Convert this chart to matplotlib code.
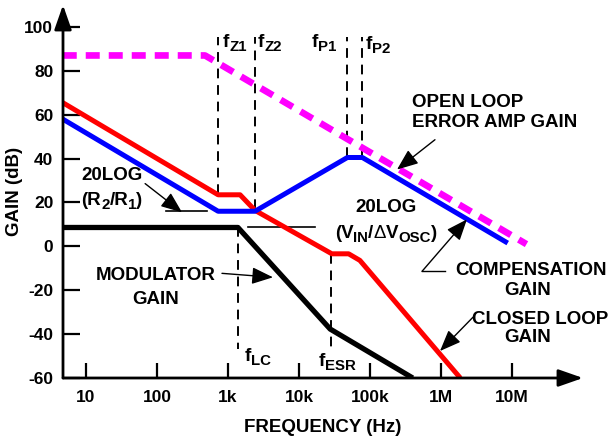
import matplotlib
matplotlib.use("Agg")
import matplotlib.pyplot as plt

plt.rcParams['font.family'] = ['Liberation Sans', 'DejaVu Sans']
plt.rcParams['font.weight'] = 'bold'
plt.rcParams['axes.labelweight'] = 'bold'

# asymptotic gain curves (frequency in Hz, gain in dB)
open_loop_f = [4.7, 475, 16e6]
open_loop_db = [87, 87, 1]

comp_f = [4.7, 725, 2400, 48000, 78000, 8.7e6]
comp_db = [58, 16, 16, 40.5, 40.5, 1.5]

closed_f = [4.7, 725, 1480, 2400, 29000, 50000, 72000, 1.87e6]
closed_db = [65.5, 23.5, 23.5, 16.4, -3.4, -3.4, -6.4, -60]

mod_f = [4.7, 1380, 27500, 400000]
mod_db = [8.6, 8.6, -37.7, -60]

# corner frequencies: (name, freq, y from, y to)
corners = [
    ('fz1', 725, 24, 95.5),
    ('fz2', 2400, 17, 95.5),
    ('fp1', 48000, 40.5, 95.5),
    ('fp2', 78000, 40.5, 95.5),
    ('flc', 1380, 8.6, -47),
    ('fesr', 28000, -3.6, -47),
]

xticks = [10, 100, 1e3, 1e4, 1e5, 1e6, 1e7]
xtick_labels = ['10', '100', '1k', '10k', '100k', '1M', '10M']
yticks = [-60, -40, -20, 0, 20, 40, 60, 80, 100]

W, H = 608, 438


def fp(x, y):
    # pixel position -> figure fraction
    return x / W, 1 - y / H


fig = plt.figure(figsize=(W / 100, H / 100), dpi=100)
ax = fig.add_axes([63 / W, 1 - 378 / H, (583 - 63) / W, (378 - 5) / H])
ax.set_xscale('log')
ax.set_xlim(4.74, 1e8)
ax.set_ylim(-60, 110)

for s in ax.spines.values():
    s.set_visible(False)
ax.annotate('', xy=(1, 0), xytext=(0, 0), xycoords='axes fraction',
            arrowprops=dict(arrowstyle='-|>,head_length=1.0,head_width=0.35',
                            mutation_scale=15, lw=2, color='k', shrinkA=0, shrinkB=0))
ax.annotate('', xy=(0, 1), xytext=(0, 0), xycoords='axes fraction',
            arrowprops=dict(arrowstyle='-|>,head_length=1.0,head_width=0.35',
                            mutation_scale=15, lw=2, color='k', shrinkA=0, shrinkB=0))

ax.set_xticks(xticks)
ax.set_xticklabels(xtick_labels, fontweight='bold')
ax.minorticks_off()
ax.set_yticks(yticks)
ax.set_yticklabels([str(v) for v in yticks], fontweight='bold')
ax.tick_params(axis='y', direction='in', length=12, width=1.6, pad=7, labelsize=12.5)
ax.tick_params(axis='x', direction='in', length=10.5, width=1.6, pad=9, labelsize=12.5)

# corner frequency markers
for name, f, y0, y1 in corners:
    ax.plot([f, f], [y0, y1], color='k', lw=1.4, ls=(0, (5, 3.5)))

# reference levels
ax.plot([133, 506], [16, 16], color='k', lw=1.2)
ax.plot([1900, 16600], [8.6, 8.6], color='k', lw=1.2)

ax.plot(mod_f, mod_db, color='k', lw=3.8, solid_capstyle='butt')
ax.plot(closed_f, closed_db, color='#ff0000', lw=3.6, solid_capstyle='butt')
ax.plot(comp_f, comp_db, color='#0000ff', lw=3.6, solid_capstyle='butt')
ax.plot(open_loop_f, open_loop_db, color='#ff00ff', lw=4.8, ls=(0, (2.1, 1.35)))

ax.set_xlabel('FREQUENCY (Hz)', fontsize=13.5, fontweight='bold', labelpad=10)
fig.text(*fp(15, 191), 'GAIN (dB)', rotation=90, ha='center', va='center',
         fontsize=13.5, fontweight='bold')

renderer = fig.canvas.get_renderer()


def rich(x, y, parts, ha='left', size=13.5):
    # parts: list of (text, kind) with kind '' normal, 's' subscript, 't' thin
    objs = []
    cx = 0
    for s, kind in parts:
        fs = size * 0.8 if kind == 's' else size
        dy = 4 if kind == 's' else 0
        fw = 'normal' if kind == 't' else 'bold'
        t = fig.text(0, 0, s, fontsize=fs, fontweight=fw, va='baseline', ha='left')
        w = t.get_window_extent(renderer).width
        objs.append((t, cx, dy))
        cx += w
    x0 = x - cx / 2 if ha == 'center' else x
    for t, off, dy in objs:
        t.set_position(fp(x0 + off, y + dy))


# y is baseline in pixels
rich(223, 47, [('f', ''), ('Z1', 's')])
rich(258, 47, [('f', ''), ('Z2', 's')])
rich(312, 47, [('f', ''), ('P1', 's')])
rich(366, 49, [('f', ''), ('P2', 's')])
rich(245, 361, [('f', ''), ('LC', 's')])
rich(319, 366, [('f', ''), ('ESR', 's')])

rich(112, 180, [('20LOG', '')], ha='center')
rich(112, 205, [('(R', ''), ('2', 's'), ('/R', ''), ('1', 's'), (')', '')], ha='center')
rich(386, 212, [('20LOG', '')], ha='center')
rich(386, 238, [('(V', ''), ('IN', 's'), ('/', ''), ('\u0394', 't'), ('V', ''),
                ('OSC', 's'), (')', '')], ha='center')
rich(412, 107, [('OPEN LOOP', '')])
rich(412, 127, [('ERROR AMP GAIN', '')])
rich(531, 275, [('COMPENSATION', '')], ha='center')
rich(528, 295, [('GAIN', '')], ha='center')
rich(540, 324, [('CLOSED LOOP', '')], ha='center')
rich(528, 342, [('GAIN', '')], ha='center')
rich(156, 280, [('MODULATOR', '')], ha='center')
rich(156, 304, [('GAIN', '')], ha='center')

arr = dict(arrowstyle='-|>,head_length=1.0,head_width=0.4', mutation_scale=13,
           lw=1, color='k', shrinkA=0, shrinkB=0)
ax.annotate('', xy=(225, 15.5), xytext=(68, 28.6), arrowprops=arr)
ax.annotate('', xy=(240e3, 35), xytext=(822e3, 48.6), arrowprops=arr)
ax.plot([1.14e6, 540e3], [-11.4, -11.4], color='k', lw=1)
ax.annotate('', xy=(2.32e6, 12.3), xytext=(540e3, -11.4), arrowprops=arr)
ax.annotate('', xy=(968e3, -47.7), xytext=(2.82e6, -32.3), arrowprops=arr)
ax.annotate('', xy=(4300, -14.1), xytext=(822, -12.3), arrowprops=arr)

fig.savefig('out.png', dpi=100)
